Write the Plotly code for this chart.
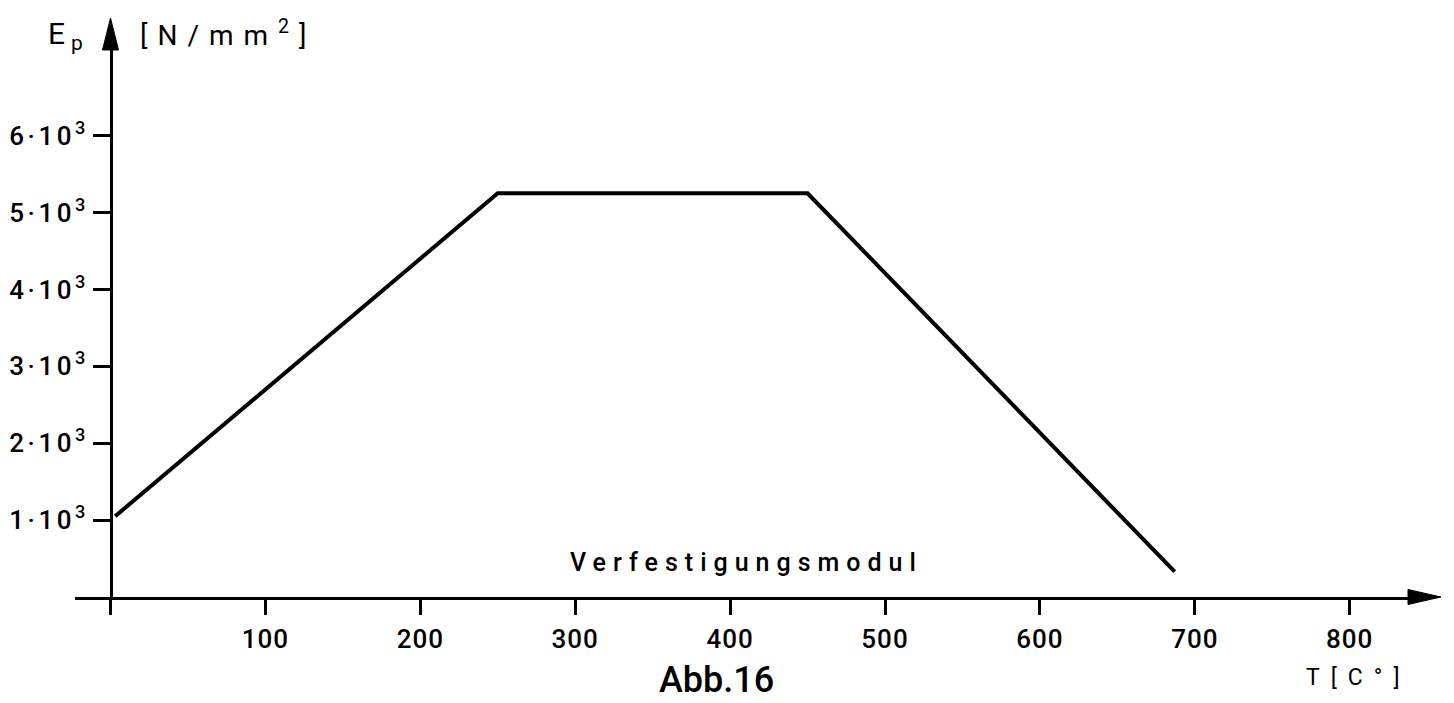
import plotly.graph_objects as go

# Verfestigungsmodul E_p over temperature T
temperature = [3, 250, 450, 687]          # T [°C]
modulus = [1050, 5250, 5250, 330]         # E_p [N/mm²]

x_ticks = [0, 100, 200, 300, 400, 500, 600, 700, 800]
x_tick_labels = ["", "100", "200", "300", "400", "500", "600", "700", "800"]
y_ticks = [1000, 2000, 3000, 4000, 5000, 6000]
y_tick_labels = ["1·10", "2·10", "3·10", "4·10", "5·10", "6·10"]

W, H = 1454, 703
FONT = "Roboto"
INK = "black"

# pixel layout of the drawing
x_zero_px, x_scale = 110.5, 1.549      # px of T=0, px per °C
x_left_px, x_right_px = 75, 1412
y_zero_px, y_scale = 597, 0.0769       # px of E=0, px per N/mm²
y_top_px = 46

x_range = [(x_left_px - x_zero_px) / x_scale, (x_right_px - x_zero_px) / x_scale]
y_range = [0, (y_zero_px - y_top_px) / y_scale]


def px(xp):
    return xp / W


def py(yp):
    return (H - yp) / H


def spaced(text, sp):
    return f'<span style="letter-spacing:{sp}px">{text}</span>'


fig = go.Figure()
fig.add_trace(go.Scatter(
    x=temperature, y=modulus, mode="lines",
    line=dict(color=INK, width=4), cliponaxis=False, hoverinfo="skip",
))

fig.update_layout(
    width=W, height=H,
    margin=dict(l=0, r=0, t=0, b=0),
    paper_bgcolor="white", plot_bgcolor="white",
    showlegend=False,
    font=dict(family=FONT, color=INK, size=24),
    xaxis=dict(
        domain=[px(x_left_px), px(x_right_px)], range=x_range,
        anchor="y", showline=True, linecolor=INK, linewidth=3,
        showgrid=False, zeroline=False,
        ticks="outside", ticklen=15, tickwidth=3, tickcolor=INK,
        tickvals=x_ticks, ticktext=[spaced(t, 1) for t in x_tick_labels],
        tickfont=dict(family=FONT, size=26, color=INK, weight=500),
        ticklabelstandoff=2, automargin=False,
    ),
    yaxis=dict(
        domain=[py(y_zero_px), py(y_top_px)], range=y_range,
        anchor="free", position=px(x_zero_px),
        showline=True, linecolor=INK, linewidth=3,
        showgrid=False, zeroline=False,
        ticks="outside", ticklen=17, tickwidth=3, tickcolor=INK,
        tickvals=y_ticks,
        ticktext=[spaced(t, 3.5) + "<sup>3</sup>" for t in y_tick_labels],
        tickfont=dict(family=FONT, size=26, color=INK, weight=500),
        ticklabelstandoff=2, automargin=False,
    ),
)

# arrow heads at the ends of both axes
fig.add_shape(type="path", xref="paper", yref="paper",
              xsizemode="pixel", ysizemode="pixel",
              xanchor=px(x_right_px - 4), yanchor=py(y_zero_px),
              path="M 0 -7.5 L 33 0 L 0 7.5 Z",
              fillcolor=INK, line=dict(color=INK, width=1))
fig.add_shape(type="path", xref="paper", yref="paper",
              xsizemode="pixel", ysizemode="pixel",
              xanchor=px(x_zero_px), yanchor=py(y_top_px + 4),
              path="M -8 0 L 0 32 L 8 0 Z",
              fillcolor=INK, line=dict(color=INK, width=1))

notes = [
    (spaced("E<sub>p</sub>", 6), 46, 35, "left", 30, 400),
    (spaced("[N/mm<sup>2</sup>]", 10), 138, 33, "left", 28, 400),
    (spaced("Verfestigungsmodul", 7), 568, 562, "left", 25, 500),
    ("Abb.16", 716, 680, "center", 36, 500),
    (spaced("T[C°]", 11), 1304, 677, "left", 23, 400),
]
for text, xp, yp, anchor, size, weight in notes:
    fig.add_annotation(
        x=px(xp), y=py(yp), xref="paper", yref="paper",
        text=text, showarrow=False, xanchor=anchor, yanchor="middle",
        font=dict(family=FONT, size=size, color=INK, weight=weight),
    )

fig.write_html("out.html")
